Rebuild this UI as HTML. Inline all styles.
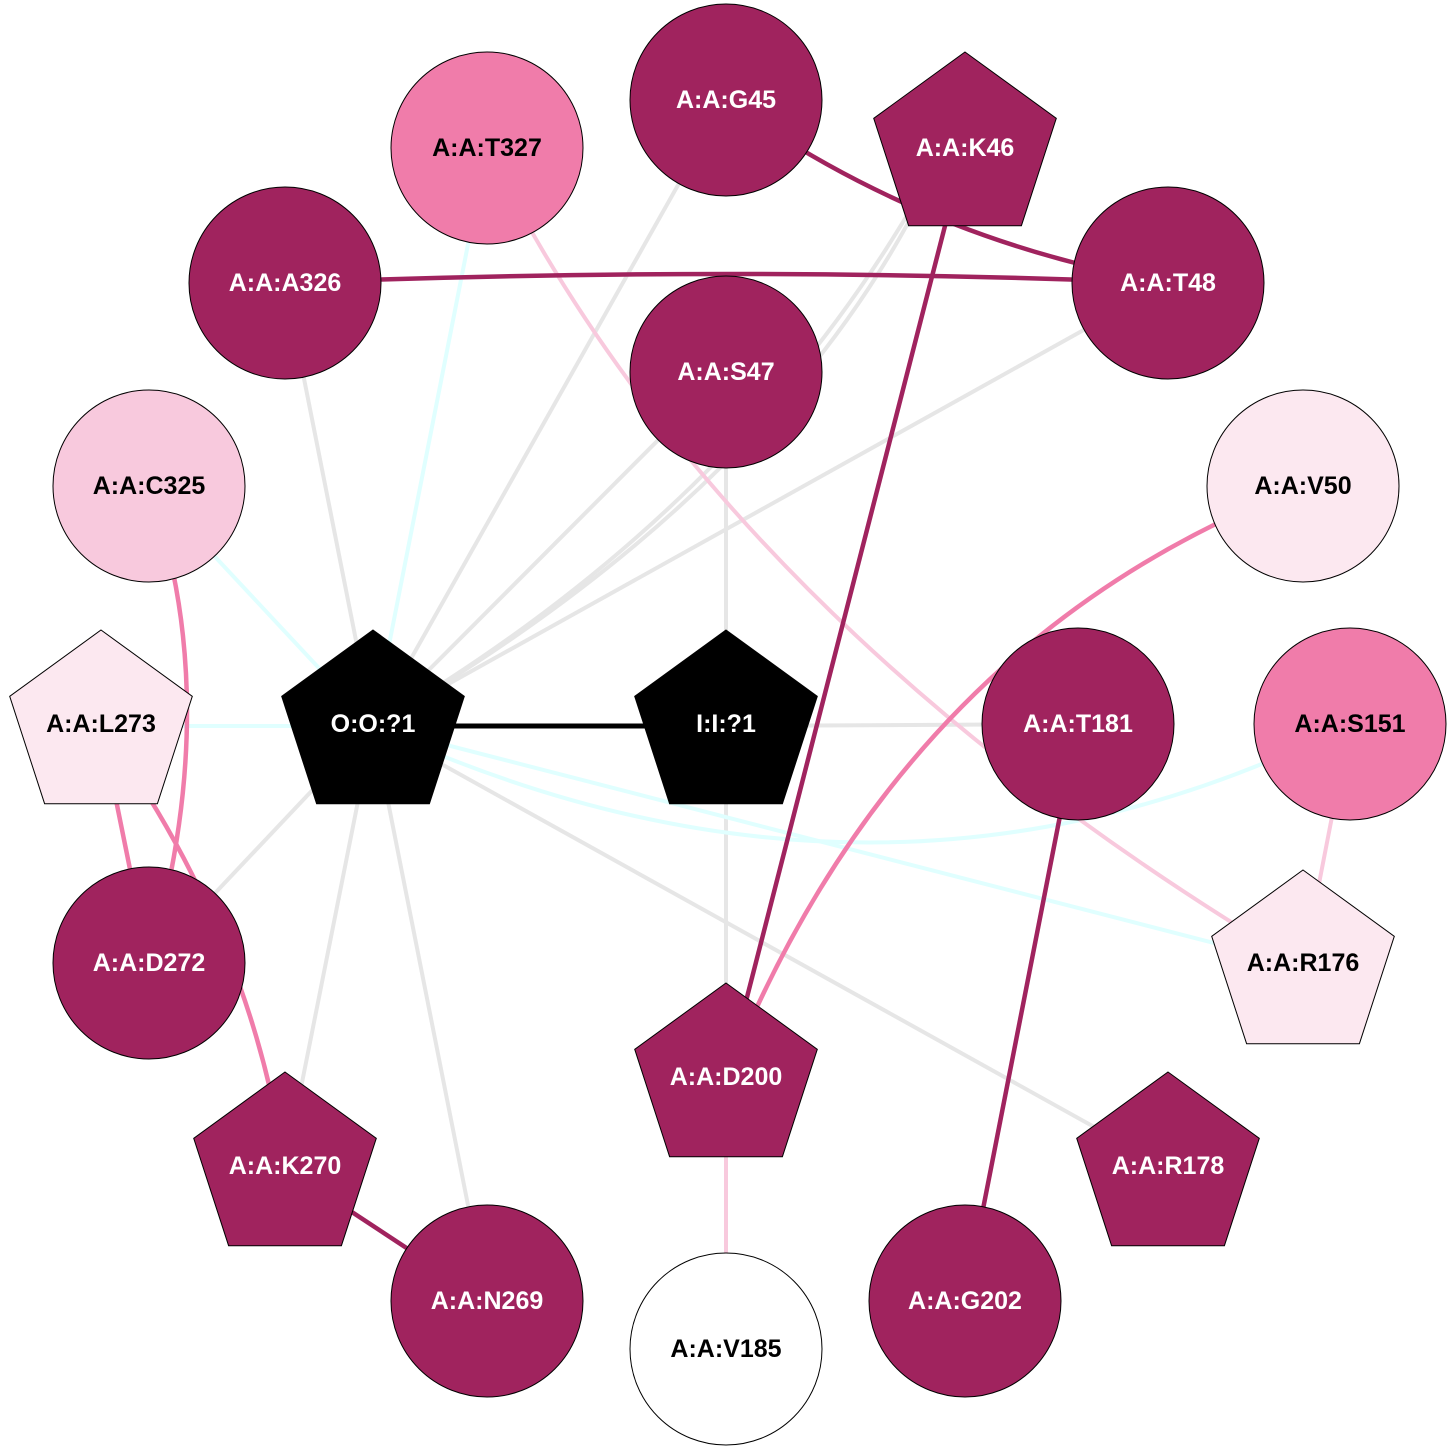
<!DOCTYPE html>
<html><head><meta charset="utf-8"><style>
html,body{margin:0;padding:0;background:#fff;}
svg{display:block;}
text{font-family:"Liberation Sans",Arial,sans-serif;font-weight:bold;font-size:25px;text-anchor:middle;dominant-baseline:central;}
</style></head><body>
<svg width="1452" height="1452" viewBox="0 0 1452 1452" xmlns="http://www.w3.org/2000/svg">
<defs>
<polygon id="pg" points="0,-96 91.3,-29.7 56.4,77.7 -56.4,77.7 -91.3,-29.7" stroke="#000" stroke-width="1"/>
</defs>
<g fill="none" stroke-width="4">
<g stroke="#e6e6e6">
<line x1="373" y1="726" x2="285" y2="283"/>
<line x1="373" y1="726" x2="726" y2="100"/>
<path d="M373 726 Q 800 480 945 148"/>
<path d="M373 726 Q 760 500 945 148"/>
<line x1="373" y1="726" x2="726" y2="372"/>
<line x1="373" y1="726" x2="1168" y2="283"/>
<line x1="373" y1="726" x2="149" y2="963"/>
<line x1="373" y1="726" x2="285" y2="1168"/>
<line x1="373" y1="726" x2="487" y2="1301"/>
<line x1="373" y1="726" x2="1168" y2="1168"/>
<line x1="726" y1="726" x2="726" y2="372"/>
<line x1="726" y1="726" x2="1078" y2="724"/>
<line x1="726" y1="726" x2="726" y2="1079"/>
</g>
<g stroke="#e0ffff">
<line x1="373" y1="726" x2="487" y2="148"/>
<line x1="373" y1="726" x2="149" y2="486"/>
<line x1="373" y1="726" x2="101" y2="726"/>
<path d="M373 726 Q 880 960 1350 724"/>
<line x1="373" y1="726" x2="1303" y2="966"/>
</g>
<g stroke="#f8c9dd">
<path d="M487 148 Q 720 620 1303 966"/>
<line x1="1350" y1="724" x2="1303" y2="966"/>
<line x1="726" y1="1079" x2="726" y2="1349"/>
</g>
<g stroke="#f07caa" stroke-width="4.5">
<path d="M1303 486 Q 900 640 726 1079"/>
<path d="M149 486 Q 225 700 149 963"/>
<line x1="101" y1="726" x2="149" y2="963"/>
<path d="M101 726 Q 250 930 285 1168"/>
</g>
<g stroke="#a0235e" stroke-width="4.5">
<path d="M726 100 Q 920 240 1168 283"/>
<path d="M285 283 Q 730 265 1168 283"/>
<line x1="965" y1="148" x2="726" y2="1079"/>
<line x1="1078" y1="724" x2="965" y2="1301"/>
<line x1="285" y1="1168" x2="487" y2="1301"/>
</g>
<line x1="373" y1="726" x2="726" y2="726" stroke="#000" stroke-width="5"/>
</g>
<g stroke="#000" stroke-width="1">
<circle cx="487" cy="148" r="96" fill="#f07caa"/>
<circle cx="726" cy="100" r="96" fill="#a0235e"/>
<use href="#pg" x="965" y="148" fill="#a0235e"/>
<circle cx="285" cy="283" r="96" fill="#a0235e"/>
<circle cx="1168" cy="283" r="96" fill="#a0235e"/>
<circle cx="726" cy="372" r="96" fill="#a0235e"/>
<circle cx="149" cy="486" r="96" fill="#f8c9dd"/>
<circle cx="1303" cy="486" r="96" fill="#fce8f0"/>
<use href="#pg" x="101" y="726" fill="#fce8f0"/>
<use href="#pg" x="373" y="726" fill="#000"/>
<use href="#pg" x="726" y="726" fill="#000"/>
<circle cx="1078" cy="724" r="96" fill="#a0235e"/>
<circle cx="1350" cy="724" r="96" fill="#f07caa"/>
<circle cx="149" cy="963" r="96" fill="#a0235e"/>
<use href="#pg" x="1303" y="966" fill="#fce8f0"/>
<use href="#pg" x="726" y="1079" fill="#a0235e"/>
<use href="#pg" x="285" y="1168" fill="#a0235e"/>
<use href="#pg" x="1168" y="1168" fill="#a0235e"/>
<circle cx="487" cy="1301" r="96" fill="#a0235e"/>
<circle cx="726" cy="1349" r="96" fill="#fff"/>
<circle cx="965" cy="1301" r="96" fill="#a0235e"/>
</g>
<g fill="#fff">
<text x="726" y="100">A:A:G45</text>
<text x="965" y="148">A:A:K46</text>
<text x="285" y="283">A:A:A326</text>
<text x="1168" y="283">A:A:T48</text>
<text x="726" y="372">A:A:S47</text>
<text x="373" y="724">O:O:?1</text>
<text x="726" y="724">I:I:?1</text>
<text x="1078" y="724">A:A:T181</text>
<text x="149" y="963">A:A:D272</text>
<text x="726" y="1077">A:A:D200</text>
<text x="285" y="1166">A:A:K270</text>
<text x="1168" y="1166">A:A:R178</text>
<text x="487" y="1301">A:A:N269</text>
<text x="965" y="1301">A:A:G202</text>
</g>
<g fill="#000">
<text x="487" y="148">A:A:T327</text>
<text x="149" y="486">A:A:C325</text>
<text x="1303" y="486">A:A:V50</text>
<text x="101" y="724">A:A:L273</text>
<text x="1350" y="724">A:A:S151</text>
<text x="1303" y="963">A:A:R176</text>
<text x="726" y="1349">A:A:V185</text>
</g>
</svg>
</body></html>
